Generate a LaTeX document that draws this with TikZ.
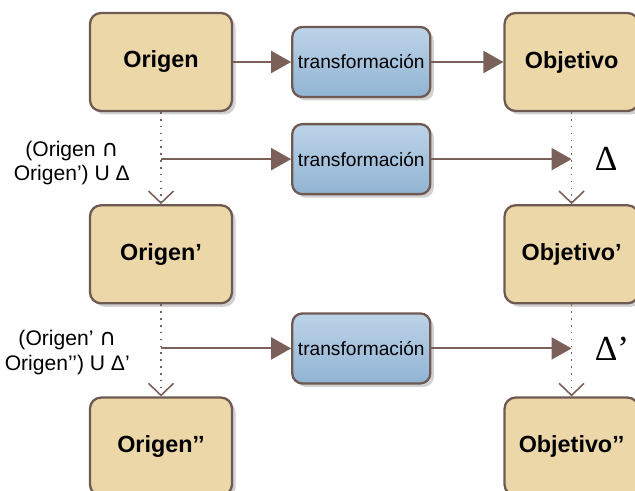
\documentclass[tikz,border=0pt]{standalone}
\usepackage{fontspec}
\setmainfont{Liberation Sans}
\newfontfamily\deltafont{Liberation Serif}
\newfontfamily\capfont{DejaVu Sans}
\usepackage{xcolor}
\usetikzlibrary{arrows.meta, positioning, shadows}
\definecolor{boxtan}{HTML}{EBD7A8}
\definecolor{boxedge}{HTML}{6E5A52}
\definecolor{linkbrown}{HTML}{7A6058}
\definecolor{xfblueA}{HTML}{BDD3E7}
\definecolor{xfblueB}{HTML}{91B4D4}
\tikzset{
  setbox/.style={rectangle, rounded corners=0.22cm, draw=boxedge, line width=1.3pt,
                 fill=boxtan, minimum width=2.84cm, minimum height=1.96cm,
                 font=\fontsize{13.3}{16}\selectfont\bfseries,
                 drop shadow={shadow xshift=0.07cm, shadow yshift=-0.07cm, fill=black!18, opacity=1}},
  xfbox/.style={rectangle, rounded corners=0.2cm, draw=boxedge, line width=1.3pt,
                top color=xfblueA, bottom color=xfblueB, inner sep=1pt,
                minimum width=2.76cm, minimum height=1.4cm,
                font=\fontsize{10.9}{13}\selectfont,
                drop shadow={shadow xshift=0.07cm, shadow yshift=-0.07cm, fill=black!18, opacity=1}},
  arrow/.style={-{Triangle[length=0.4cm, width=0.44cm]}, line width=1.1pt, draw=linkbrown, fill=linkbrown},
  deriv/.style={dash pattern=on 0.9pt off 3pt, line width=0.9pt, draw=linkbrown,
                -{Straight Barb[length=0.24cm, width=0.5cm, line width=0.9pt]}},
  setlabel/.style={align=center, font=\fontsize{12}{14}\selectfont},
  deltalabel/.style={font=\deltafont\fontsize{20}{22}\selectfont},
}
\newcommand{\capsym}{{\capfont\fontsize{13}{14}\selectfont ∩}}
\begin{document}
\begin{tikzpicture}[node distance=1.84cm and 1.16cm]
    \useasboundingbox (0,0) rectangle (12.7,-9.82);
    % top row
    \node[setbox] (orig) at (3.22,-1.24) {Origen};
    \node[xfbox, right=1.16cm of orig] (xf1) {transformación};
    \node[setbox, minimum width=2.68cm, right=1.44cm of xf1] (obj) {Objetivo};
    % next versions
    \node[setbox, below=of orig] (orig2) {Origen’};
    \node[setbox, below=of orig2] (orig3) {Origen’’};
    \node[setbox, minimum width=2.68cm, below=of obj] (obj2) {Objetivo’};
    \node[setbox, minimum width=2.68cm, below=of obj2] (obj3) {Objetivo’’};
    % points on the dotted links
    \coordinate[below=0.94cm of orig.south] (o1);
    \coordinate[below=0.88cm of orig2.south] (o2);
    \coordinate[below=0.94cm of obj.south] (t1);
    \coordinate[below=0.88cm of obj2.south] (t2);
    \node[xfbox] (xf2) at (xf1 |- o1) {transformación};
    \node[xfbox] (xf3) at (xf1 |- o2) {transformación};
    \node[setlabel, left=0.5cm of o1, yshift=-0.08cm] (lab1) {(Origen \capsym\\Origen’) U Δ};
    \node[setlabel, left=0.5cm of o2, yshift=-0.08cm] (lab2) {(Origen’ \capsym\\Origen’’) U Δ’};
    \node[deltalabel, right=0.34cm of t1] (d1) {Δ};
    \node[deltalabel, right=0.34cm of t2] (d2) {Δ’};
    % links
    \draw[deriv] (orig) -- (orig2);
    \draw[deriv] (orig2) -- (orig3);
    \draw[deriv] (obj) -- (obj2);
    \draw[deriv] (obj2) -- (obj3);
    \draw[arrow] (orig) -- (xf1);
    \draw[arrow] (xf1) -- (obj);
    \draw[arrow] (o1) -- (xf2);
    \draw[arrow] (xf2) -- (t1);
    \draw[arrow] (o2) -- (xf3);
    \draw[arrow] (xf3) -- (t2);
  \end{tikzpicture}
\end{document}
